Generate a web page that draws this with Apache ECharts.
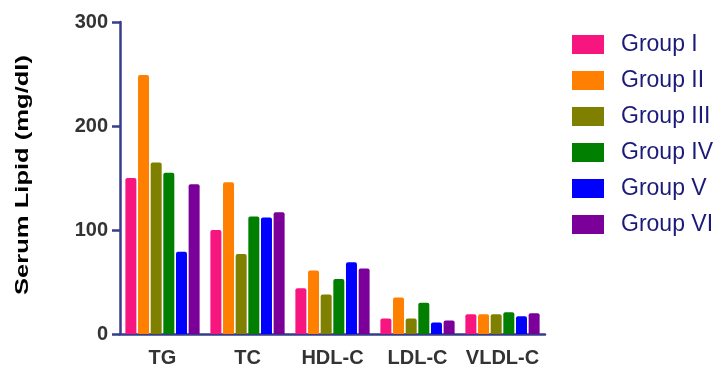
<!DOCTYPE html>
<html>
<head>
<meta charset="utf-8">
<script src="https://cdn.jsdelivr.net/npm/echarts@6/dist/echarts.min.js"></script>
<style>
html,body{margin:0;padding:0;background:#fff;}
#chart{width:716px;height:369px;}
</style>
</head>
<body>
<div id="chart"></div>
<script>
const categories = ['TG', 'TC', 'HDL-C', 'LDL-C', 'VLDL-C'];
const groupNames = ['Group I', 'Group II', 'Group III', 'Group IV', 'Group V', 'Group VI'];
const groupI   = [150, 100, 44, 15, 19];
const groupII  = [249, 146, 61, 35, 19];
const groupIII = [165, 77, 38, 15, 19];
const groupIV  = [155, 113, 53, 30, 21];
const groupV   = [79, 112, 69, 11, 17];
const groupVI  = [144, 117, 63, 13, 20];
const yTicks = [0, 100, 200, 300];
const yTitle = 'Serum Lipid (mg/dl)';

const colors = ['#F7167F', '#FF8000', '#808000', '#007F00', '#0000FF', '#7B0099'];
const seriesData = [groupI, groupII, groupIII, groupIV, groupV, groupVI];
const axisColor = '#373D8A';

const chart = echarts.init(document.getElementById('chart'), null, {renderer: 'canvas'});
chart.setOption({
  animation: false,
  color: colors,
  grid: {left: 120, right: 171, top: 22, bottom: 35, containLabel: false},
  legend: {
    orient: 'vertical',
    left: 572,
    top: 33,
    padding: 0,
    itemWidth: 32,
    itemHeight: 19,
    itemGap: 13,
    icon: 'rect',
    data: groupNames,
    textStyle: {fontFamily: 'Liberation Sans', fontSize: 23, lineHeight: 19, color: '#1A1A7A', padding: [0, 0, 0, 12]}
  },
  xAxis: {
    type: 'category',
    data: categories,
    axisLine: {lineStyle: {color: axisColor, width: 2.5}},
    axisTick: {alignWithLabel: true, length: 8, lineStyle: {color: axisColor, width: 2.5}},
    axisLabel: {interval: 0, fontFamily: 'Liberation Sans', fontWeight: 'bold', fontSize: 20, color: '#333', margin: 14}
  },
  yAxis: {
    type: 'value',
    min: yTicks[0],
    max: yTicks[yTicks.length - 1],
    interval: 100,
    splitLine: {show: false},
    axisLine: {show: true, lineStyle: {color: axisColor, width: 2.5}},
    axisTick: {show: true, length: 8, lineStyle: {color: axisColor, width: 2.5}},
    axisLabel: {fontFamily: 'Liberation Sans', fontWeight: 'bold', fontSize: 20, color: '#333', margin: 12}
  },
  graphic: [{
    type: 'text',
    x: 23,
    y: 175,
    rotation: Math.PI / 2,
    scaleX: 1.42,
    style: {
      text: yTitle,
      font: 'bold 18px "Liberation Sans"',
      fill: '#000',
      textAlign: 'center',
      textVerticalAlign: 'middle'
    }
  }],
  series: groupNames.map((name, i) => ({
    name: name,
    type: 'bar',
    data: seriesData[i],
    barWidth: 11,
    barGap: '15%',
    barCategoryGap: '13%',
    itemStyle: {color: colors[i], borderRadius: [2, 2, 0, 0]}
  }))
});
</script>
</body>
</html>
